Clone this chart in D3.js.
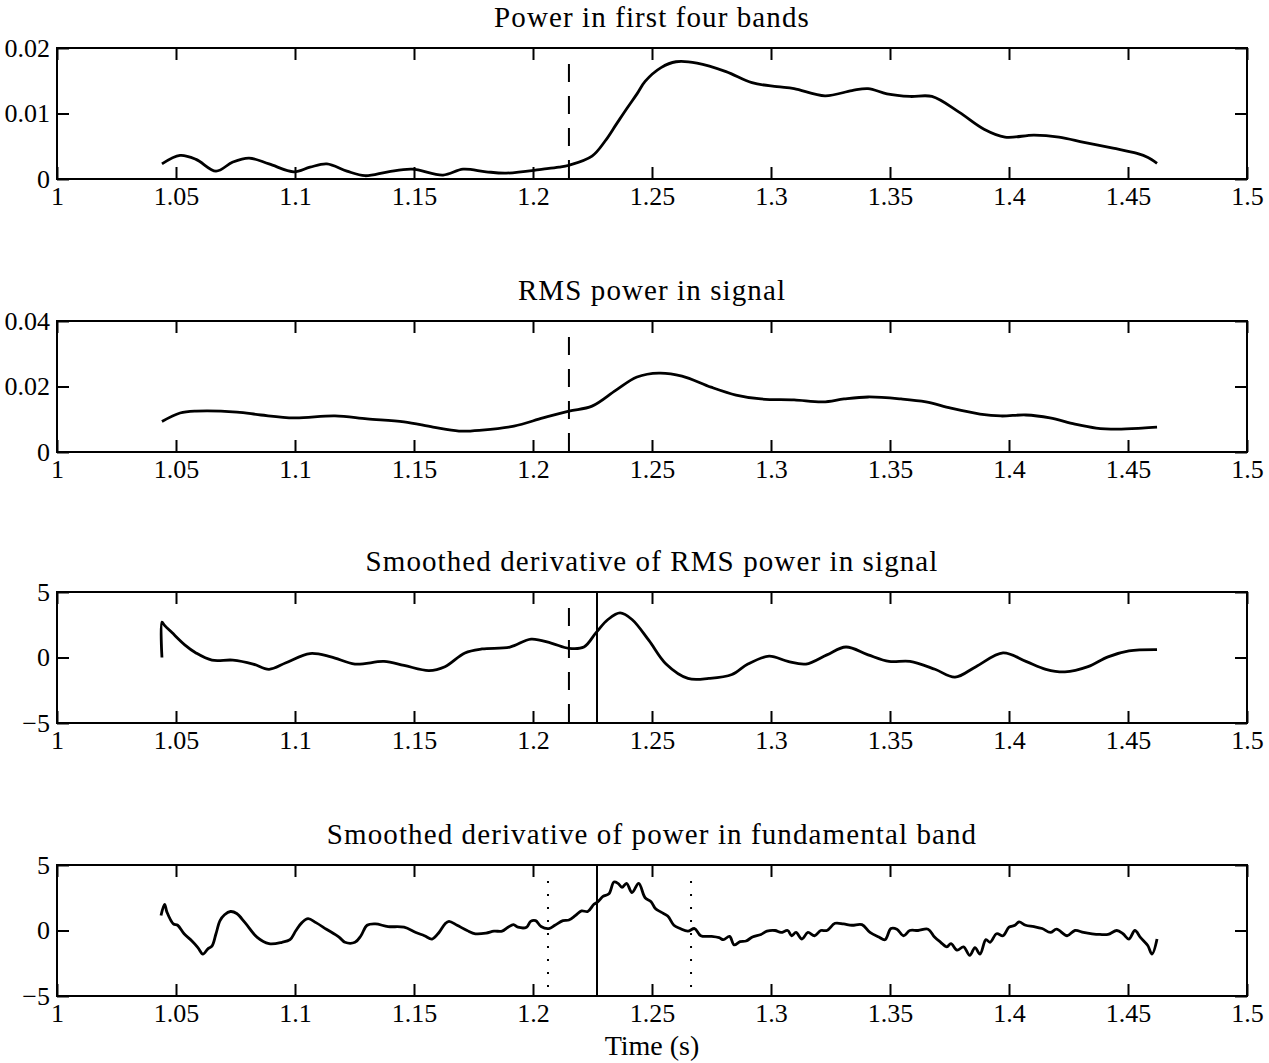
<!DOCTYPE html>
<html>
<head>
<meta charset="utf-8">
<script src="https://cdn.jsdelivr.net/npm/d3@7"></script>
<style>
  body { margin: 0; background: #fff; }
  text { font-family: "Liberation Serif", "Times New Roman", serif; fill: #000; }
</style>
</head>
<body>
<svg id="chart"></svg>
<script>
/// DATA ///
const titles = [
  "Power in first four bands",
  "RMS power in signal",
  "Smoothed derivative of RMS power in signal",
  "Smoothed derivative of power in fundamental band"
];
const xLabel = "Time (s)";

const xTicks = [1, 1.05, 1.1, 1.15, 1.2, 1.25, 1.3, 1.35, 1.4, 1.45, 1.5];
const xTickLabels = ["1", "1.05", "1.1", "1.15", "1.2", "1.25", "1.3", "1.35", "1.4", "1.45", "1.5"];

const yDomains = [[0, 0.02], [0, 0.04], [-5, 5], [-5, 5]];
const yTicks = [[0, 0.01, 0.02], [0, 0.02, 0.04], [-5, 0, 5], [-5, 0, 5]];
const yTickLabels = [["0", "0.01", "0.02"], ["0", "0.02", "0.04"], ["\u22125", "0", "5"], ["\u22125", "0", "5"]];

// power in first four bands
const t1 = [1.0441, 1.0517, 1.0584, 1.0668, 1.0739, 1.0807, 1.0891, 1.0996, 1.1063, 1.1134,
  1.1218, 1.1294, 1.1391, 1.1492, 1.1622, 1.1706, 1.1803, 1.1887, 1.2042, 1.2109,
  1.2151, 1.2248, 1.2303, 1.2349, 1.2395, 1.2437, 1.2471, 1.2538, 1.2601, 1.2689,
  1.2811, 1.2920, 1.3025, 1.3097, 1.3227, 1.3340, 1.3408, 1.3487, 1.3584, 1.3676,
  1.3790, 1.3895, 1.3983, 1.4105, 1.4210, 1.4315, 1.4437, 1.4538, 1.4584, 1.4622];
const power = [0.0023, 0.0036, 0.0030, 0.0012, 0.0026, 0.0032, 0.0023, 0.0011, 0.0018, 0.0023,
  0.0012, 0.0005, 0.0011, 0.0015, 0.0006, 0.0015, 0.0011, 0.0009, 0.0015, 0.0018,
  0.0021, 0.0035, 0.0058, 0.0083, 0.0108, 0.0130, 0.0149, 0.0170, 0.0179, 0.0177,
  0.0164, 0.0147, 0.0141, 0.0138, 0.0127, 0.0135, 0.0138, 0.0130, 0.0126, 0.0126,
  0.0102, 0.0076, 0.0064, 0.0067, 0.0064, 0.0056, 0.0047, 0.0039, 0.0033, 0.0024];

// RMS power
const t2 = [1.0441, 1.0517, 1.0584, 1.0756, 1.0857, 1.0996, 1.1168, 1.1303, 1.1458, 1.1580,
  1.1689, 1.1786, 1.1920, 1.2042, 1.2151, 1.2248, 1.2349, 1.2437, 1.2529, 1.2626,
  1.2748, 1.2853, 1.2958, 1.3097, 1.3218, 1.3307, 1.3408, 1.3546, 1.3651, 1.3756,
  1.3878, 1.3966, 1.4071, 1.4172, 1.4277, 1.4366, 1.4454, 1.4559, 1.4622];
const rms = [0.0093, 0.0119, 0.0125, 0.0122, 0.0113, 0.0104, 0.0110, 0.0101, 0.0092, 0.0076,
  0.0064, 0.0067, 0.0079, 0.0104, 0.0125, 0.0140, 0.0189, 0.0229, 0.0241, 0.0232,
  0.0198, 0.0174, 0.0162, 0.0159, 0.0153, 0.0162, 0.0168, 0.0162, 0.0153, 0.0134,
  0.0116, 0.0110, 0.0113, 0.0104, 0.0085, 0.0073, 0.0070, 0.0073, 0.0076];

// smoothed derivative of RMS power
const t3 = [1.0441, 1.0441, 1.0452, 1.0483, 1.0538, 1.0584, 1.0651, 1.0739, 1.0824, 1.0891, 1.0962, 1.1063,
  1.1151, 1.1252, 1.1374, 1.1458, 1.1563, 1.1630, 1.1714, 1.1786, 1.1903, 1.1992,
  1.2076, 1.2151, 1.2214, 1.2265, 1.2315, 1.2366, 1.2416, 1.2487, 1.2559, 1.2651,
  1.2739, 1.2836, 1.2903, 1.2992, 1.3071, 1.3147, 1.3235, 1.3315, 1.3408, 1.3496,
  1.3584, 1.3689, 1.3773, 1.3861, 1.3975, 1.4071, 1.4155, 1.4235, 1.4332, 1.4416,
  1.4504, 1.4622];
const dRms = [0, 2.7, 2.45, 1.9, 0.95, 0.35, -0.2, -0.2, -0.5, -0.9, -0.4, 0.3,
  0.05, -0.5, -0.3, -0.6, -1.0, -0.7, 0.35, 0.65, 0.8, 1.4,
  1.1, 0.7, 0.8, 1.9, 2.9, 3.4, 2.9, 1.3, -0.5, -1.6,
  -1.6, -1.3, -0.5, 0.1, -0.3, -0.5, 0.2, 0.8, 0.2, -0.3,
  -0.3, -0.9, -1.5, -0.7, 0.35, -0.3, -0.9, -1.1, -0.7, 0.05,
  0.5, 0.6];

// smoothed derivative of power in fundamental band
const t4 = [1.0437, 1.0452, 1.0462, 1.0489, 1.0507, 1.0534, 1.0567, 1.0592, 1.0613, 1.0634,
  1.0651, 1.0668, 1.0685, 1.0704, 1.0729, 1.0755, 1.0790, 1.0840, 1.0891, 1.0945,
  1.0979, 1.1004, 1.1029, 1.1055, 1.1088, 1.1132, 1.1185, 1.1210, 1.1252, 1.1277,
  1.1303, 1.1338, 1.1391, 1.1458, 1.1508, 1.1544, 1.1576, 1.1605, 1.1630, 1.1647,
  1.1681, 1.1723, 1.1758, 1.1803, 1.1836, 1.1870, 1.1895, 1.1918, 1.1937, 1.1973,
  1.1990, 1.2011, 1.2034, 1.2067, 1.2092, 1.2126, 1.2151, 1.2179, 1.2204, 1.2230,
  1.2256, 1.2273, 1.2294, 1.2319, 1.2340, 1.2357, 1.2374, 1.2393, 1.2416, 1.2444,
  1.2471, 1.2496, 1.2513, 1.2538, 1.2566, 1.2592, 1.2618, 1.2651, 1.2679, 1.2705,
  1.2748, 1.2782, 1.2800, 1.2826, 1.2845, 1.2870, 1.2895, 1.2922, 1.2958, 1.2983,
  1.3017, 1.3042, 1.3070, 1.3087, 1.3105, 1.3130, 1.3155, 1.3183, 1.3209, 1.3235,
  1.3269, 1.3305, 1.3340, 1.3382, 1.3416, 1.3453, 1.3479, 1.3504, 1.3529, 1.3557,
  1.3583, 1.3618, 1.3660, 1.3687, 1.3713, 1.3739, 1.3756, 1.3782, 1.3809, 1.3835,
  1.3857, 1.3878, 1.3903, 1.3920, 1.3948, 1.3975, 1.4000, 1.4025, 1.4042, 1.4070,
  1.4105, 1.4139, 1.4174, 1.4200, 1.4244, 1.4277, 1.4313, 1.4349, 1.4382, 1.4416,
  1.4453, 1.4479, 1.4504, 1.4529, 1.4553, 1.4583, 1.4601, 1.4622];
const dFund = [1.15, 2.0, 1.4, 0.5, 0.4, -0.25, -0.8, -1.3, -1.8, -1.4,
  -1.2, -0.25, 0.75, 1.2, 1.45, 1.3, 0.6, -0.5, -1.0, -0.9,
  -0.7, 0, 0.6, 0.9, 0.6, 0.1, -0.5, -0.9, -0.9, -0.4,
  0.4, 0.5, 0.3, 0.25, -0.15, -0.4, -0.65, -0.15, 0.5, 0.7,
  0.4, 0, -0.25, -0.2, -0.05, -0.05, 0.25, 0.45, 0.25, 0.25,
  0.7, 0.75, 0.3, 0.15, 0.4, 0.75, 0.8, 1.15, 1.5, 1.45,
  2.0, 2.2, 2.6, 2.8, 3.7, 3.6, 3.3, 3.6, 2.9, 3.6,
  2.5, 2.2, 1.7, 1.4, 1.1, 0.4, 0.15, -0.05, 0.15, -0.4,
  -0.45, -0.55, -0.7, -0.45, -1.1, -0.85, -0.8, -0.5, -0.3, -0.05,
  0, -0.15, 0, -0.4, -0.15, -0.65, -0.15, -0.4, 0, 0,
  0.55, 0.5, 0.4, 0.45, -0.15, -0.5, -0.7, 0.15, 0.1, -0.4,
  0, 0, 0.1, -0.5, -0.9, -1.25, -1.0, -1.5, -1.25, -1.9,
  -1.3, -1.8, -0.7, -0.9, -0.25, -0.4, 0.25, 0.4, 0.65, 0.4,
  0.3, 0.15, -0.15, 0.1, -0.4, 0, -0.15, -0.25, -0.3, -0.3,
  0, -0.25, -0.65, 0, -0.55, -1.15, -1.8, -0.65];

const seriesT = [t1, t2, t3, t4];
const seriesV = [power, rms, dRms, dFund];

// event markers (time)
const dashedT = 1.2151;
const solidT = 1.2269;
const dottedT = [1.2063, 1.2664];
const markers = [
  [{ t: dashedT, style: "dashed" }],
  [{ t: dashedT, style: "dashed" }],
  [{ t: dashedT, style: "dashed" }, { t: solidT, style: "solid" }],
  [{ t: dottedT[0], style: "dotted" }, { t: solidT, style: "solid" }, { t: dottedT[1], style: "dotted" }]
];

/// LAYOUT ///
const W = 1269, H = 1063;
const left = 57, right = 1247;
const width = right - left;
const height = 131;
const panelTops = [48, 321, 592, 865];

const svg = d3.select("#chart")
  .attr("width", W)
  .attr("height", H);

const x = d3.scaleLinear().domain([1, 1.5]).range([0, width]);

panelTops.forEach((top, i) => {
  const g = svg.append("g")
    .attr("transform", `translate(${left}, ${top})`);

  const y = d3.scaleLinear().domain(yDomains[i]).range([height, 0]);

  // TITLE
  g.append("text")
    .attr("x", width / 2)
    .attr("y", -21)
    .attr("text-anchor", "middle")
    .style("font-size", "29px")
    .style("letter-spacing", "1.1px")
    .text(titles[i]);

  // AXES (ticks inside on all four sides)
  const bottom = g.append("g")
    .attr("transform", `translate(0, ${height})`)
    .call(d3.axisBottom(x).tickValues(xTicks)
      .tickFormat((d, k) => xTickLabels[k])
      .tickSize(-12).tickPadding(8));
  const topAx = g.append("g")
    .call(d3.axisTop(x).tickValues(xTicks).tickFormat("").tickSize(-12));
  const leftAx = g.append("g")
    .call(d3.axisLeft(y).tickValues(yTicks[i])
      .tickFormat((d, k) => yTickLabels[i][k])
      .tickSize(-12).tickPadding(7));
  const rightAx = g.append("g")
    .attr("transform", `translate(${width}, 0)`)
    .call(d3.axisRight(y).tickValues(yTicks[i]).tickFormat("").tickSize(-12));

  [bottom, topAx, leftAx, rightAx].forEach(a => {
    a.select(".domain").remove();
    a.selectAll(".tick line").attr("stroke", "#000").attr("stroke-width", 2);
    a.selectAll("text")
      .style("font-family", "'Liberation Serif', serif")
      .style("font-size", "26px")
      .attr("fill", "#000");
  });

  // FRAME
  g.append("rect")
    .attr("width", width)
    .attr("height", height)
    .attr("fill", "none")
    .attr("stroke", "#000")
    .attr("stroke-width", 2);

  // MARKERS
  markers[i].forEach(m => {
    const ln = g.append("line")
      .attr("x1", x(m.t)).attr("x2", x(m.t))
      .attr("y1", m.style === "solid" ? 0 : 16)
      .attr("y2", height)
      .attr("stroke", "#000")
      .attr("stroke-width", 2);
    if (m.style === "dashed") ln.attr("stroke-dasharray", "18,14");
    if (m.style === "dotted") ln.attr("stroke-dasharray", "2,11");
  });

  // SERIES
  const pts = seriesT[i].map((t, k) => [t, seriesV[i][k]]);
  const line = d3.line()
    .x(d => x(d[0]))
    .y(d => y(d[1]))
    .curve(d3.curveCatmullRom);

  g.append("path")
    .datum(pts)
    .attr("d", line)
    .attr("fill", "none")
    .attr("stroke", "#000")
    .attr("stroke-width", 2.8)
    .attr("stroke-linejoin", "round");
});

// X LABEL
svg.append("text")
  .attr("x", left + width / 2)
  .attr("y", 1055)
  .attr("text-anchor", "middle")
  .style("font-size", "28px")
  .text(xLabel);
</script>
</body>
</html>
